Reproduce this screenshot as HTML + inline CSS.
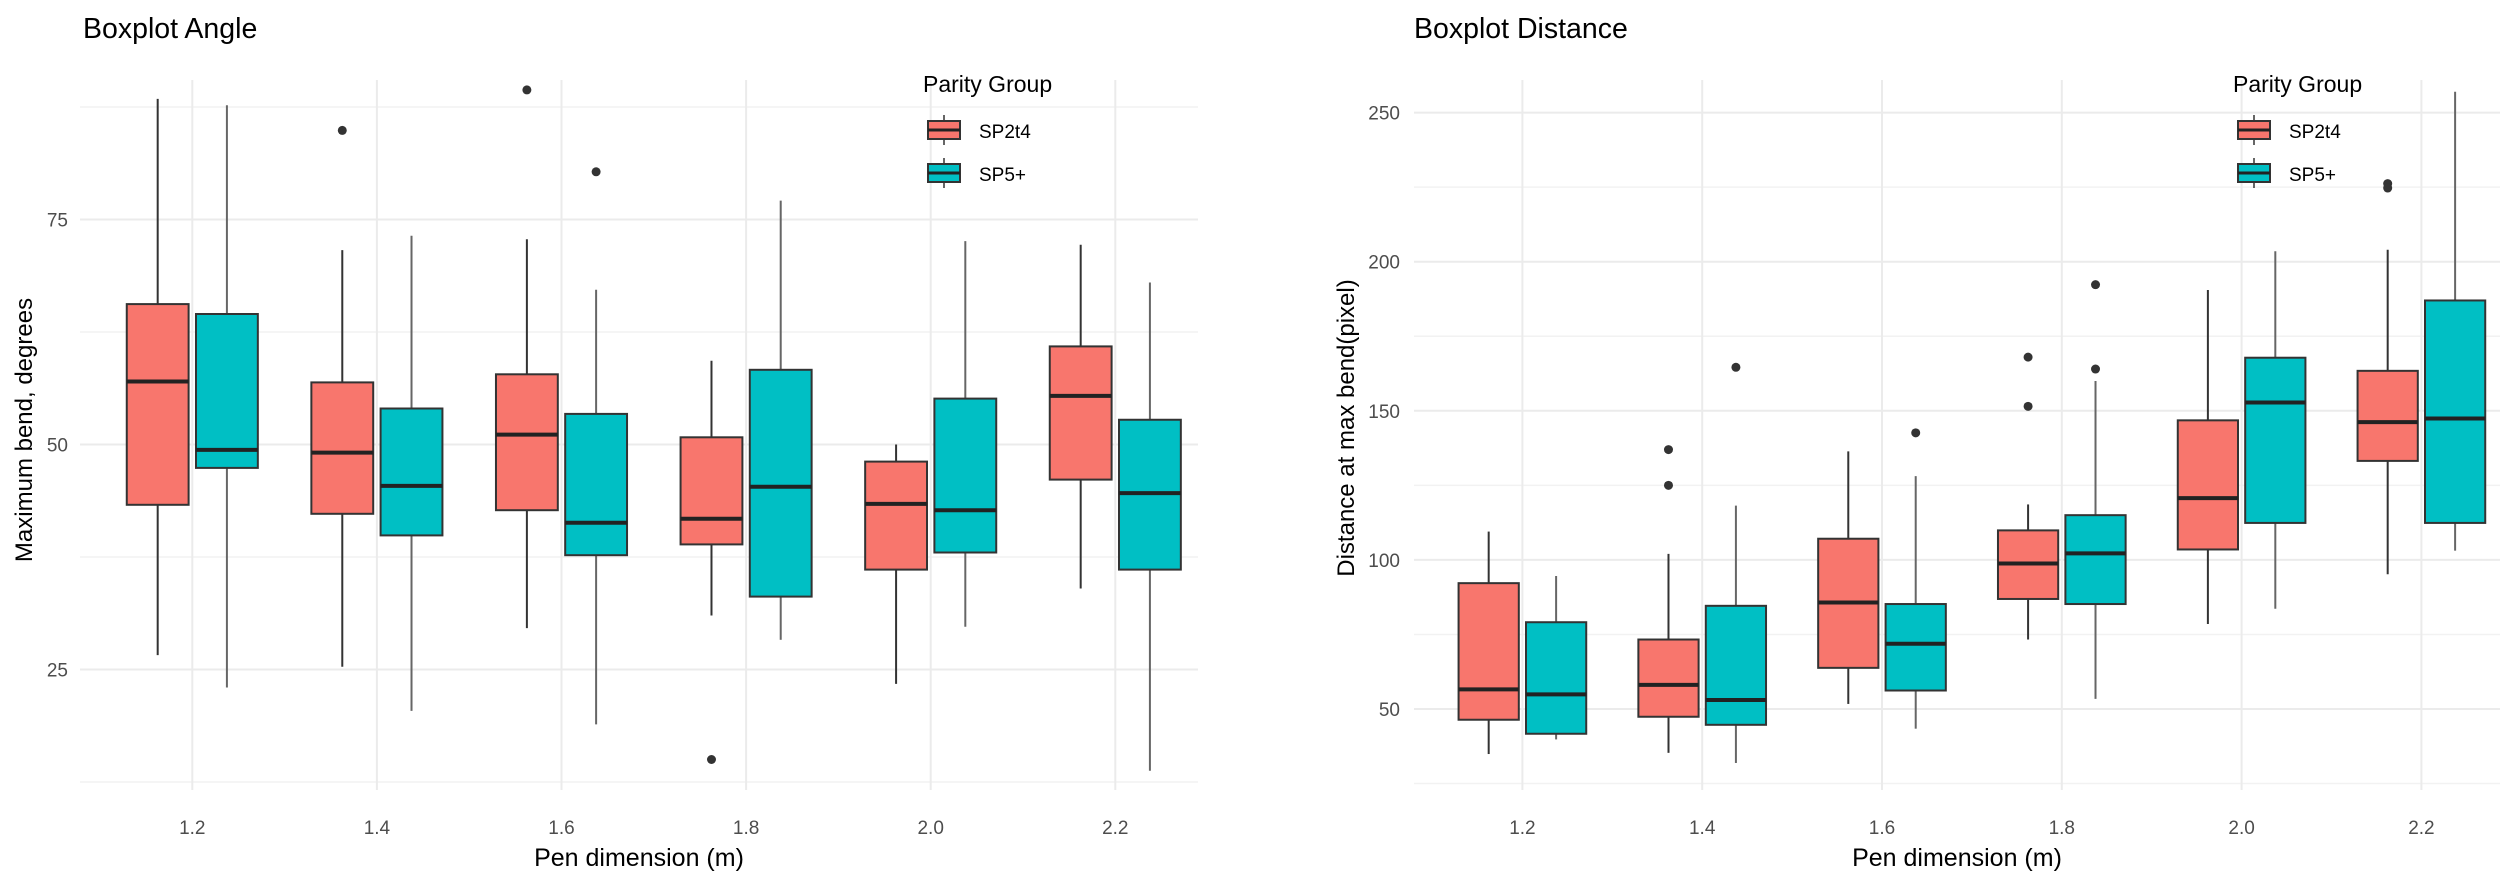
<!DOCTYPE html>
<html><head><meta charset="utf-8"><style>
html,body{margin:0;padding:0;background:#fff;}
svg{display:block;font-family:"Liberation Sans",sans-serif;}
</style></head><body>
<svg id="c" width="2500" height="878" viewBox="0 0 2500 878" xmlns="http://www.w3.org/2000/svg"></svg>
<script>
const categories = ["1.2","1.4","1.6","1.8","2.0","2.2"];
const groups = ["SP2t4","SP5+"];
const groupColors = ["#F8766D","#00BFC4"];
// angle: [low, q1, med, q3, high]
const angleSP2t4 = [[26.6,43.3,57,65.6,88.4],[25.3,42.3,49.1,56.9,71.6],[29.6,42.7,51.1,57.8,72.8],[31,38.9,41.75,50.8,59.3],[23.4,36.1,43.4,48.1,50],[34,46.1,55.4,60.9,72.2]];
const angleSP5 = [[23,47.4,49.4,64.5,87.7],[20.4,39.9,45.4,54,73.2],[18.9,37.7,41.3,53.4,67.2],[28.3,33.1,45.3,58.3,77.1],[29.75,38,42.7,55.1,72.6],[13.75,36.1,44.6,52.75,68]];
const angleOutSP2t4 = [[],[84.9],[89.4],[15],[],[]];
const angleOutSP5 = [[],[],[80.3],[],[],[]];
const distSP2t4 = [[34.9,46.4,56.6,92.2,109.5],[35.3,47.4,58.1,73.3,102],[51.7,63.8,85.7,107.1,136.4],[73.3,86.9,98.8,109.9,118.6],[78.5,103.5,120.7,146.8,190.5],[95.2,133.2,146.2,163.4,204]];
const distSP5 = [[39.8,41.7,54.9,79.1,94.6],[31.9,44.7,53,84.6,118.2],[43.4,56.2,71.9,85.2,128.1],[53.4,85.2,102.2,115,160],[83.6,112.4,152.8,167.8,203.5],[103.1,112.4,147.4,187,257]];
const distOutSP2t4 = [[],[137,125],[],[168,151.5],[],[226.2,224.7]];
const distOutSP5 = [[],[164.6],[142.6],[192.3,164],[],[]];
const angleTicks = [25,50,75];
const angleMinor = [12.5,37.5,62.5,87.5];
const distTicks = [50,100,150,200,250];
const distMinor = [25,75,125,175,225];

const NS="http://www.w3.org/2000/svg";
const svg=document.getElementById('c');
function mk(tag,attrs,parent,text){const e=document.createElementNS(NS,tag);for(const k in attrs)e.setAttribute(k,attrs[k]);if(text!==undefined)e.textContent=text;(parent||svg).appendChild(e);return e;}

function panel(cfg){
  const g=mk('g',{});
  
  
  const xs=i=>cfg.x0+i*cfg.dx;
  const ys=v=>cfg.yRef+(cfg.vRef-v)*cfg.ppu;
  cfg.minor.forEach(v=>{const l=mk('line',{x1:cfg.left,x2:cfg.right,y1:ys(v),y2:ys(v),stroke:'#f2f2f2','stroke-width':1.5},g);
    });
  cfg.ticks.forEach(v=>{const l=mk('line',{x1:cfg.left,x2:cfg.right,y1:ys(v),y2:ys(v),stroke:'#ebebeb','stroke-width':2},g);
    
    const t=mk('text',{x:cfg.tickRight,y:ys(v)+7,'text-anchor':'end','font-size':19,fill:'#4d4d4d'},g,String(v));
    });
  categories.forEach((c,i)=>{const l=mk('line',{x1:xs(i),x2:xs(i),y1:cfg.top,y2:cfg.bottom,stroke:'#ebebeb','stroke-width':2},g);
    
    const t=mk('text',{x:xs(i),y:834,'text-anchor':'middle','font-size':19,fill:'#4d4d4d'},g,c);
    });
  const off=cfg.dx*0.1875, bw=cfg.dx*0.335;
  [cfg.s1,cfg.s2].forEach((ser,si)=>{
    ser.forEach((d,i)=>{
      const cx=xs(i)+(si===0?-off:off);
      const bg=mk('g',{},g);
      
      
      const wc=si===0?'#333':'#666';
      mk('line',{x1:cx,x2:cx,y1:ys(d[4]),y2:ys(d[3]),stroke:wc,'stroke-width':2},bg);
      mk('line',{x1:cx,x2:cx,y1:ys(d[1]),y2:ys(d[0]),stroke:wc,'stroke-width':2},bg);
      mk('rect',{x:cx-bw/2,y:ys(d[3]),width:bw,height:ys(d[1])-ys(d[3]),fill:groupColors[si],stroke:'#333','stroke-width':2},bg);
      mk('line',{x1:cx-bw/2,x2:cx+bw/2,y1:ys(d[2]),y2:ys(d[2]),stroke:'#222','stroke-width':4},bg);
      const outs=(si===0?cfg.o1:cfg.o2)[i];
      outs.forEach(v=>{const p=mk('circle',{cx:cx,cy:ys(v),r:4.5,fill:'#333'},bg);
        });
    });
  });
  const t1=mk('text',{x:cfg.titleX,y:38,'font-size':28.5,fill:'#000'},g,cfg.title);
  
  const xt=mk('text',{x:(cfg.left+cfg.right)/2,y:866,'text-anchor':'middle','font-size':25,fill:'#000'},g,'Pen dimension (m)');
  
  const yt=mk('text',{x:0,y:0,'text-anchor':'middle','font-size':24,fill:'#000',transform:`translate(${cfg.yTitleX},${cfg.yTitleY}) rotate(-90)`},g,cfg.yTitle);
  
  const lg=mk('g',{},g);
  
  mk('text',{x:cfg.legX,y:92,'font-size':23,fill:'#000'},lg,'Parity Group');
  groups.forEach((gn,k)=>{
    const ky=119+k*43;
    const e=mk('g',{},lg);
    
    
    const kx=cfg.legX+5;
    mk('line',{x1:kx+16,x2:kx+16,y1:ky-4,y2:ky+26,stroke:'#333','stroke-width':1.5},e);
    mk('rect',{x:kx,y:ky+2,width:32,height:18,fill:groupColors[k],stroke:'#333','stroke-width':2},e);
    mk('line',{x1:kx,x2:kx+32,y1:ky+11,y2:ky+11,stroke:'#222','stroke-width':3},e);
    mk('text',{x:kx+51,y:ky+19,'font-size':19,fill:'#000'},e,gn);
  });
}

panel({name:'angle-chart',title:'Boxplot Angle',titleX:83,x0:192.3,dx:184.6,left:80,right:1198,top:80,bottom:790,
  yRef:219.5,vRef:75,ppu:9.0,ticks:angleTicks,minor:angleMinor,tickRight:68,
  s1:angleSP2t4,s2:angleSP5,o1:angleOutSP2t4,o2:angleOutSP5,
  yTitle:'Maximum bend, degrees',yTitleX:32,yTitleY:430,legX:923});
panel({name:'distance-chart',title:'Boxplot Distance',titleX:1414,x0:1522.4,dx:179.8,left:1414,right:2500,top:80,bottom:790,
  yRef:112.6,vRef:250,ppu:2.982,ticks:distTicks,minor:distMinor,tickRight:1400,
  s1:distSP2t4,s2:distSP5,o1:distOutSP2t4,o2:distOutSP5,
  yTitle:'Distance at max bend(pixel)',yTitleX:1354,yTitleY:428,legX:2233});
</script>
</body></html>
